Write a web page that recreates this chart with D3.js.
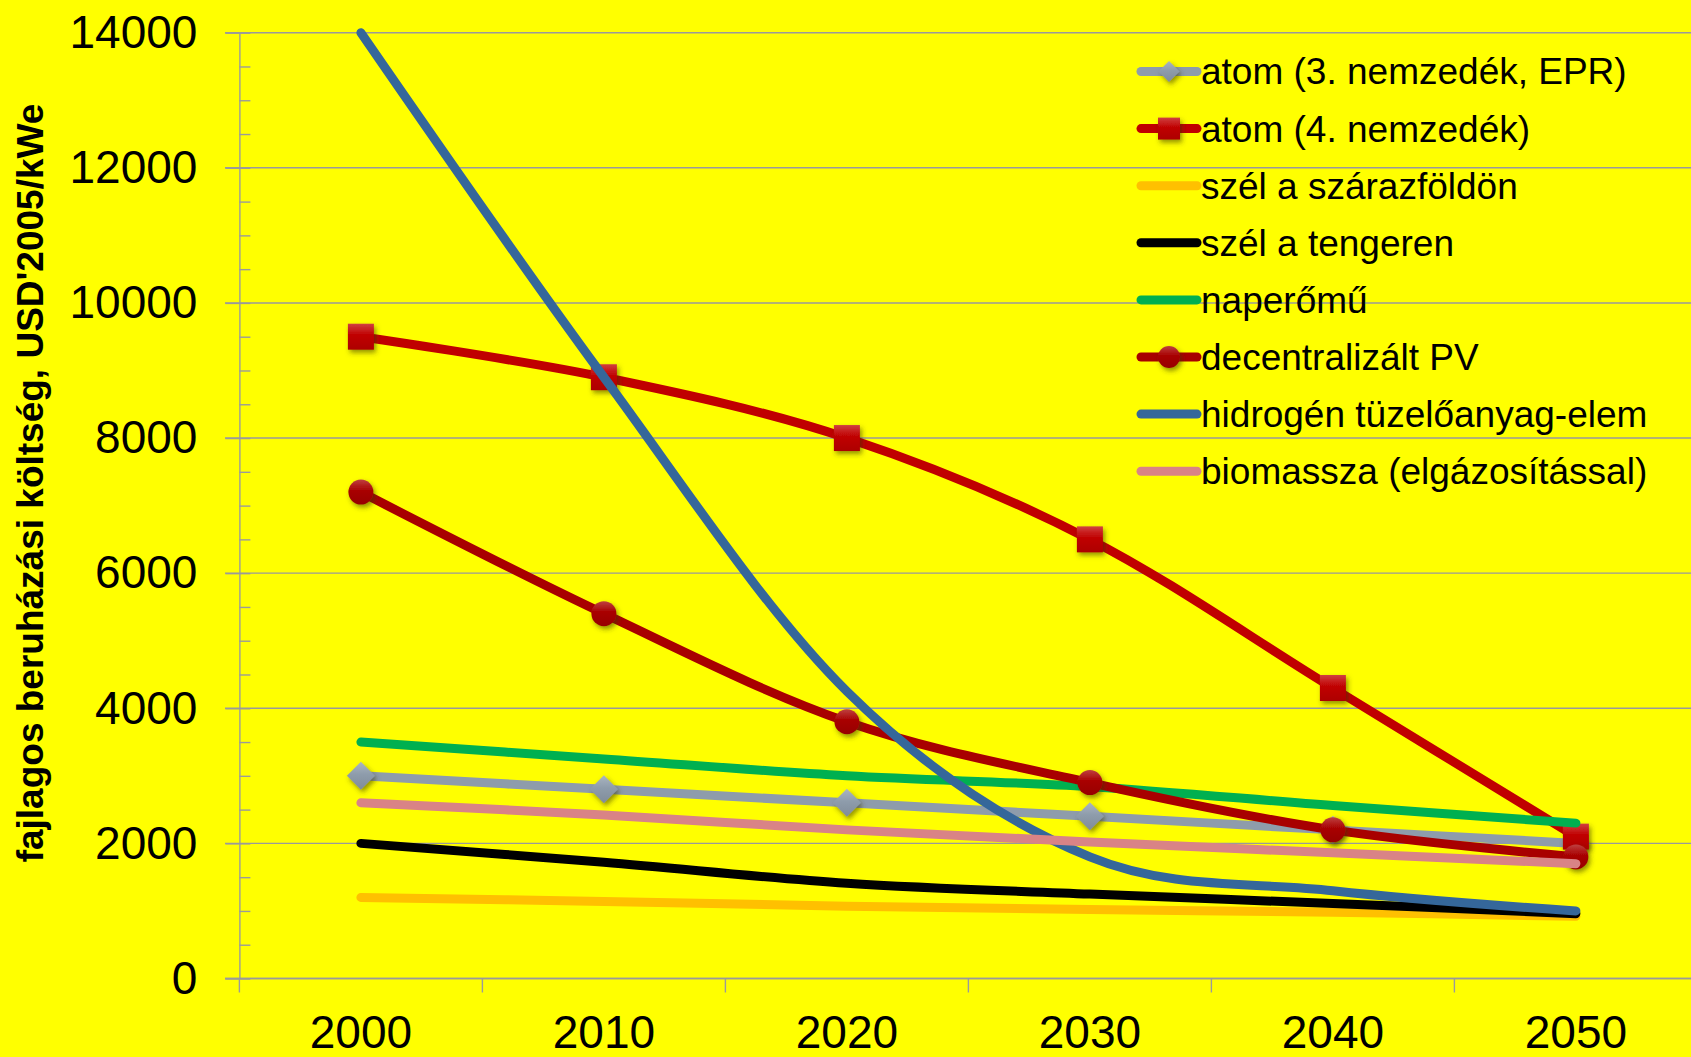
<!DOCTYPE html>
<html>
<head>
<meta charset="utf-8">
<script src="https://cdn.jsdelivr.net/npm/d3@7"></script>
<style>
  html, body { margin: 0; padding: 0; background: #ffff00; }
  svg { display: block; font-family: "Liberation Sans", Arial, sans-serif; }
</style>
</head>
<body>
<svg id="chart" width="1691" height="1057"></svg>
<script>
// years on the category axis
var years = [2000, 2010, 2020, 2030, 2040, 2050];

// series values, USD'2005/kWe
var atom3 = [3000, 2800, 2600, 2400, 2200, 2000];
var atom4 = [9500, 8900, 8000, 6500, 4300, 2100];
var windLand = [1200, 1140, 1070, 1020, 980, 920];
var windSea = [2000, 1720, 1410, 1250, 1110, 960];
var solarPlant = [3500, 3250, 3000, 2840, 2560, 2300];
var pvDecentral = [7200, 5400, 3800, 2900, 2200, 1800];
var hydrogen = [14000, 8900, 4250, 1800, 1300, 1000];
var biomass = [2600, 2420, 2200, 2020, 1860, 1700];

var seriesNames = [
    "atom (3. nemzedék, EPR)",
    "atom (4. nemzedék)",
    "szél a szárazföldön",
    "szél a tengeren",
    "naperőmű",
    "decentralizált PV",
    "hidrogén tüzelőanyag-elem",
    "biomassza (elgázosítással)"
];

var yMajor = [0, 2000, 4000, 6000, 8000, 10000, 12000, 14000];
var yMinor = d3.range(0, 14001, 500);

var yTitle = "fajlagos beruházási költség, USD'2005/kWe";

// series table built from the arrays above
var series = [
    {name: seriesNames[0], values: atom3, color: "#8e9cab", marker: "diamond"},
    {name: seriesNames[1], values: atom4, color: "#c00000", marker: "square"},
    {name: seriesNames[2], values: windLand, color: "#ffc000", marker: null},
    {name: seriesNames[3], values: windSea, color: "#000000", marker: null},
    {name: seriesNames[4], values: solarPlant, color: "#00b050", marker: null},
    {name: seriesNames[5], values: pvDecentral, color: "#a80000", marker: "circle"},
    {name: seriesNames[6], values: hydrogen, color: "#35679a", marker: null},
    {name: seriesNames[7], values: biomass, color: "#d98386", marker: null}
];

var svg = d3.select("svg"),
    width = +svg.attr("width"),
    height = +svg.attr("height");

svg.append("rect").attr("width", width).attr("height", height).attr("fill", "#ffff00");

var axisX = 239.4,
    bandW = 243;

var x = d3.scaleBand()
    .domain(years)
    .range([axisX, axisX + bandW * years.length])
    .padding(0);

var y = d3.scaleLinear()
    .domain([0, 14000])
    .range([978.5, 32.7]);

var defs = svg.append("defs");

// soft shadow under markers
var shadow = defs.append("filter").attr("id", "shadow")
    .attr("x", "-50%").attr("y", "-50%").attr("width", "200%").attr("height", "200%");
shadow.append("feDropShadow")
    .attr("dx", 2).attr("dy", 3)
    .attr("stdDeviation", 2.5)
    .attr("flood-color", "#3a3a00")
    .attr("flood-opacity", 0.55);

// marker gradients
series.forEach(function (s, i) {
    if (!s.marker) return;
    var c = d3.color(s.color);
    var g = defs.append("linearGradient").attr("id", "grad" + i)
        .attr("x1", 0).attr("y1", 0).attr("x2", 0).attr("y2", 1);
    g.append("stop").attr("offset", "0%").attr("stop-color", d3.interpolateRgb(c, "#fff")(0.25));
    g.append("stop").attr("offset", "45%").attr("stop-color", c.formatHex());
    g.append("stop").attr("offset", "100%").attr("stop-color", c.darker(0.3).formatHex());
});

// gridlines
svg.append("g")
    .selectAll("line")
    .data(yMajor)
    .enter()
    .append("line")
    .attr("x1", 225)
    .attr("x2", width)
    .attr("y1", function (d) { return y(d); })
    .attr("y2", function (d) { return y(d); })
    .style("stroke", "#9a9a9a")
    .style("stroke-width", 1.4);

// minor ticks, inside the plot
svg.append("g")
    .attr("transform", "translate(" + axisX + ",0)")
    .call(d3.axisLeft(y).tickValues(yMinor).tickSize(-11).tickSizeOuter(0).tickFormat(""))
    .call(function (g) { g.select(".domain").remove(); })
    .selectAll("line")
    .style("stroke", "#9a9a9a")
    .style("stroke-width", 1.4);

// y axis with labels
var yAxis = svg.append("g")
    .attr("transform", "translate(" + axisX + ",0)")
    .call(d3.axisLeft(y).tickValues(yMajor).tickSize(14).tickSizeOuter(0).tickPadding(28).tickFormat(d3.format("d")));
yAxis.select(".domain").style("stroke", "#9a9a9a").style("stroke-width", 1.4);
yAxis.selectAll("line").style("stroke", "#9a9a9a").style("stroke-width", 1.4);
yAxis.selectAll("text")
    .style("font-family", "'Liberation Sans', Arial, sans-serif")
    .style("font-size", "46px")
    .style("fill", "#000");

// x axis: labels centred on categories
var xAxis = svg.append("g")
    .attr("transform", "translate(0," + y(0) + ")")
    .call(d3.axisBottom(x).tickSize(0).tickPadding(37).tickSizeOuter(0));
xAxis.select(".domain").remove();
xAxis.selectAll("text")
    .style("font-family", "'Liberation Sans', Arial, sans-serif")
    .style("font-size", "46px")
    .style("fill", "#000");

// x axis line and ticks between categories
svg.append("line")
    .attr("x1", 225).attr("x2", width)
    .attr("y1", y(0)).attr("y2", y(0))
    .style("stroke", "#9a9a9a").style("stroke-width", 1.4);

var bounds = years.map(function (d) { return x(d); }).concat([x(years[years.length - 1]) + x.bandwidth()]);
svg.append("g")
    .selectAll("line")
    .data(bounds)
    .enter()
    .append("line")
    .attr("x1", function (d) { return d; })
    .attr("x2", function (d) { return d; })
    .attr("y1", y(0))
    .attr("y2", y(0) + 14)
    .style("stroke", "#9a9a9a")
    .style("stroke-width", 1.4);

// y title
svg.append("text")
    .attr("transform", "translate(43," + 483 + ") rotate(-90)")
    .attr("text-anchor", "middle")
    .style("font-size", "37px")
    .style("font-weight", "bold")
    .style("fill", "#000")
    .text(yTitle);

function drawMarker(g, type, cx, cy, size, i) {
    var fill = "url(#grad" + i + ")";
    if (type === "square") {
        g.append("rect")
            .attr("x", cx - size / 2).attr("y", cy - size / 2)
            .attr("width", size).attr("height", size)
            .attr("fill", fill)
            .attr("filter", "url(#shadow)");
    } else if (type === "circle") {
        g.append("circle")
            .attr("cx", cx).attr("cy", cy).attr("r", size / 2)
            .attr("fill", fill)
            .attr("filter", "url(#shadow)");
    } else if (type === "diamond") {
        var h = size / 2;
        g.append("path")
            .attr("d", "M" + cx + "," + (cy - h) + "L" + (cx + h) + "," + cy + "L" + cx + "," + (cy + h) + "L" + (cx - h) + "," + cy + "Z")
            .attr("fill", fill)
            .attr("filter", "url(#shadow)");
    }
}

var line = d3.line()
    .x(function (d, i) { return x(years[i]) + x.bandwidth() / 2; })
    .y(function (d) { return y(d); })
    .curve(d3.curveCardinal.tension(0));

var markerSize = {square: 26, circle: 25, diamond: 28};

// draw series in order, line then its markers
series.forEach(function (s, i) {
    var g = svg.append("g").attr("class", "series");
    g.append("path")
        .attr("d", line(s.values))
        .style("fill", "none")
        .style("stroke", s.color)
        .style("stroke-width", 9)
        .style("stroke-linecap", "round")
        .style("stroke-linejoin", "round");
    if (s.marker) {
        s.values.forEach(function (v, j) {
            drawMarker(g, s.marker, x(years[j]) + x.bandwidth() / 2, y(v), markerSize[s.marker], i);
        });
    }
});

// legend
var legend = svg.append("g");
var legTop = 71.5, legStep = 57.1;
series.forEach(function (s, i) {
    var ly = legTop + i * legStep;
    legend.append("line")
        .attr("x1", 1141).attr("x2", 1197)
        .attr("y1", ly).attr("y2", ly)
        .style("stroke", s.color)
        .style("stroke-width", 9)
        .style("stroke-linecap", "round");
    if (s.marker) {
        drawMarker(legend, s.marker, 1169, ly, s.marker === "diamond" ? 21 : 22, i);
    }
    legend.append("text")
        .attr("x", 1201)
        .attr("y", ly)
        .attr("dy", "0.35em")
        .style("font-size", "37px")
        .style("fill", "#000")
        .text(s.name);
});
</script>
</body>
</html>
